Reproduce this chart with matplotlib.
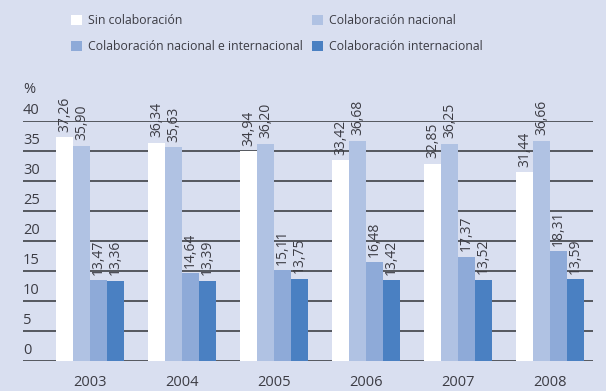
import matplotlib
matplotlib.use("Agg")
import matplotlib.pyplot as plt
import numpy as np
from matplotlib.patches import Patch
from matplotlib.transforms import ScaledTranslation

years = ["2003", "2004", "2005", "2006", "2007", "2008"]
series_names = [
    "Sin colaboración",
    "Colaboración nacional",
    "Colaboración nacional e internacional",
    "Colaboración internacional",
]
sin_colab = [37.26, 36.34, 34.94, 33.42, 32.85, 31.44]
colab_nacional = [35.90, 35.63, 36.20, 36.68, 36.25, 36.66]
colab_nac_int = [13.47, 14.64, 15.11, 16.48, 17.37, 18.31]
colab_int = [13.36, 13.39, 13.75, 13.42, 13.52, 13.59]
y_ticks = [0, 5, 10, 15, 20, 25, 30, 35, 40]

colors = ["#ffffff", "#b0c2e3", "#8eaad8", "#4a80c2"]
bg = "#d9dff0"
text_col = "#3c3c44"
grid_col = "#55585f"

plt.rcParams["font.family"] = ["Open Sans", "DejaVu Sans"]

fig = plt.figure(figsize=(6.06, 3.91), dpi=100, facecolor=bg)
ax = fig.add_axes([23 / 606, 30 / 391, 570 / 606, 240 / 391], facecolor=bg)

x = np.arange(len(years))
w = 0.185
all_series = [sin_colab, colab_nacional, colab_nac_int, colab_int]
for i, (vals, col) in enumerate(zip(all_series, colors)):
    xs = x + (i - 1.5) * w
    ax.bar(xs, vals, width=w, color=col, zorder=3, linewidth=0)
    for xi, v in zip(xs, vals):
        ax.annotate(f"{v:.2f}".replace(".", ","), (xi, v), xytext=(0, 4),
                    textcoords="offset points", rotation=90, ha="center",
                    va="bottom", fontsize=10, color=text_col, zorder=4)

for t in y_ticks:
    ax.axhline(t, color=grid_col, lw=1.4, zorder=1)

ax.set_xlim((23 - 90) / 92, (593 - 90) / 92)
ax.set_ylim(0, 40)
for s in ax.spines.values():
    s.set_visible(False)

ax.set_xticks(x)
ax.set_xticklabels(years, fontsize=10.5, color=text_col)
ax.tick_params(axis="x", length=0, pad=10)

ax.set_yticks(y_ticks)
ax.set_yticklabels([str(t) for t in y_ticks], fontsize=10.5, color=text_col)
ax.tick_params(axis="y", length=0, pad=0)
for lab in ax.get_yticklabels():
    lab.set_ha("left")
    lab.set_va("bottom")
    lab.set_transform(lab.get_transform() + ScaledTranslation(0, 2 / 72, fig.dpi_scale_trans))
ax.text(0, 1.0, "%", transform=ax.transAxes + ScaledTranslation(0, 24 / 100, fig.dpi_scale_trans),
        fontsize=10.5, color=text_col, ha="left", va="bottom")

handles = [Patch(facecolor=c, edgecolor="none") for c in colors]
order = [0, 2, 1, 3]
fig.legend([handles[i] for i in order], [series_names[i] for i in order],
           ncol=2, loc="upper left", bbox_to_anchor=(60 / 606, 1 - 3 / 391),
           frameon=False, fontsize=8.8, handlelength=0.9, handleheight=0.9,
           handletextpad=0.5, columnspacing=0.7, labelspacing=1.05,
           labelcolor=text_col)

fig.savefig("out.png", dpi=100, facecolor=bg)
